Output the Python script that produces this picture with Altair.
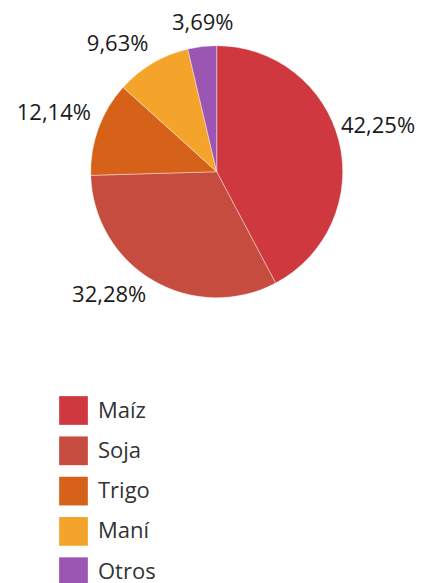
import altair as alt
import pandas as pd

categories = ["Maíz", "Soja", "Trigo", "Maní", "Otros"]
values = [42.25, 32.28, 12.14, 9.63, 3.69]
labels = ["42,25%", "32,28%", "12,14%", "9,63%", "3,69%"]
colors = ["#cf383e", "#c64c3f", "#d6621a", "#f4a42a", "#9b55b3"]

df = pd.DataFrame({
    "cat": categories,
    "val": values,
    "label": labels,
    "idx": list(range(len(categories))),
})

cx, cy = 208.7, 163.7

pie = alt.Chart(df).mark_arc(outerRadius=126, stroke="#ffffff", strokeWidth=0.4).encode(
    theta=alt.Theta("val:Q", stack=True),
    order=alt.Order("idx:Q"),
    x=alt.value(cx),
    y=alt.value(cy),
    color=alt.Color(
        "cat:N",
        scale=alt.Scale(domain=categories, range=colors),
        legend=alt.Legend(
            title=None,
            orient="none",
            legendX=51,
            legendY=388,
            symbolType="square",
            symbolSize=824,
            symbolStrokeWidth=0,
            labelFont="Open Sans",
            labelFontSize=22,
            labelColor="#333333",
            labelOffset=10,
            rowPadding=11.3,
            padding=0,
        ),
    ),
)

lab = (
    alt.Chart(df)
    .transform_joinaggregate(total="sum(val)")
    .transform_window(cum="sum(val)", sort=[alt.SortField("idx")], frame=[None, 0])
    .transform_calculate(mid="datum.cum - datum.val / 2", frac="(datum.cum - datum.val / 2) / datum.total")
    .encode(
        theta=alt.Theta("mid:Q", stack=False),
        x=alt.value(cx),
        y=alt.value(cy),
        text="label:N",
    )
)

tstyle = dict(font="Open Sans", fontSize=22, color="#1a1a1a")

top = lab.transform_filter("datum.frac < 0.03 || datum.frac > 0.97").mark_text(
    radius=138, align="center", baseline="bottom", dx=2, **tstyle)
right_up = lab.transform_filter("datum.frac >= 0.03 && datum.frac < 0.25").mark_text(
    radius=128, align="left", baseline="bottom", dy=-3, **tstyle)
right_down = lab.transform_filter("datum.frac >= 0.25 && datum.frac < 0.5").mark_text(
    radius=128, align="left", baseline="top", **tstyle)
left_down = lab.transform_filter("datum.frac >= 0.5 && datum.frac < 0.75").mark_text(
    radius=130, align="right", baseline="top", dx=-5, dy=1, **tstyle)
left_up = lab.transform_filter("datum.frac >= 0.75 && datum.frac <= 0.97").mark_text(
    radius=134, align="right", baseline="bottom", **tstyle)

chart = (
    alt.layer(pie, top, right_up, right_down, left_down, left_up)
    .properties(width=410, height=575, autosize=alt.AutoSizeParams(type="none"), padding=0, background="#ffffff")
    .configure_view(stroke=None)
)

chart.save("out.html", embed_options={"renderer": "svg", "actions": False})
